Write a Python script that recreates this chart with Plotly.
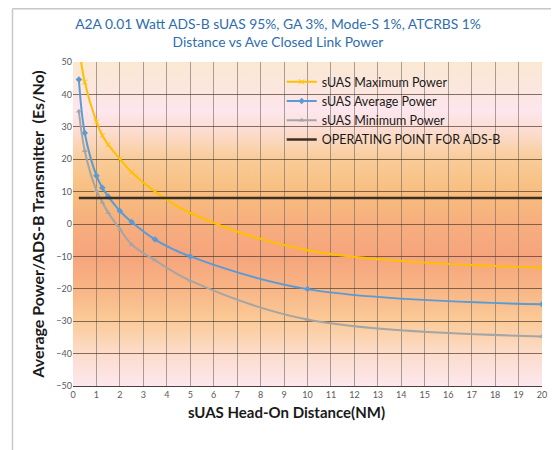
import base64
import plotly.graph_objects as go

# distances (NM) at which the power was computed
distance_nm = [0.25, 0.5, 1.0, 1.25, 1.5, 2.0, 2.5, 3.5, 5.0, 10.0, 20.0]

max_power = [55.0, 43.8, 31.5, 27.3, 24.5, 20.1, 16.0, 10.0, 3.4, -8.1, -13.5]
avg_power = [44.6, 28.1, 14.9, 11.2, 8.5, 4.0, 0.6, -4.8, -10.0, -20.1, -24.8]
min_power = [34.8, 22.6, 10.3, 6.7, 3.5, -1.6, -6.3, -11.2, -17.5, -29.5, -34.7]

op_x = [0.25, 20]
op_y = [8, 8]

FONT = "Lato, 'Open Sans', sans-serif"

# vertical background gradient of the plot area (bottom -> top)
grad_stops = [
    (0.00, "#FDE8EE"), (0.10, "#FCDCCB"), (0.20, "#FBCB98"), (0.30, "#F8B585"),
    (0.40, "#F6A47C"), (0.50, "#F7AE7E"), (0.60, "#F8BE7F"), (0.70, "#F9CC98"),
    (0.80, "#FCDFD8"), (0.85, "#FDE6EE"), (0.90, "#FCE6E2"), (1.00, "#FBE8D2"),
]
stops_svg = "".join(
    f'<stop offset="{1 - o:.2f}" stop-color="{c}"/>' for o, c in reversed(grad_stops)
)
svg = (
    '<svg xmlns="http://www.w3.org/2000/svg" width="100" height="100" '
    'viewBox="0 0 100 100" preserveAspectRatio="none">'
    f'<defs><linearGradient id="g" x1="0" y1="0" x2="0" y2="1">{stops_svg}</linearGradient></defs>'
    '<rect width="100" height="100" fill="url(#g)"/></svg>'
)
bg_src = "data:image/svg+xml;base64," + base64.b64encode(svg.encode()).decode()

fig = go.Figure()

fig.add_trace(go.Scatter(
    x=distance_nm, y=max_power, name="sUAS Maximum Power",
    mode="lines+markers", line=dict(color="#FFC000", width=2, shape="spline"),
    marker=dict(symbol="x-thin", size=5, line=dict(color="#FFC000", width=1)),
))
fig.add_trace(go.Scatter(
    x=distance_nm, y=avg_power, name="sUAS Average Power",
    mode="lines+markers", line=dict(color="#5B9BD5", width=2, shape="spline"),
    marker=dict(symbol="diamond", size=5, color="#5B9BD5"),
))
fig.add_trace(go.Scatter(
    x=distance_nm, y=min_power, name="sUAS Minimum Power",
    mode="lines+markers", line=dict(color="#A5A5A5", width=2, shape="spline"),
    marker=dict(symbol="triangle-up", size=5, color="#A5A5A5"),
))
fig.add_trace(go.Scatter(
    x=op_x, y=op_y, name="OPERATING POINT FOR ADS-B",
    mode="lines", line=dict(color="#3A3026", width=2.5),
))

fig.add_layout_image(dict(
    source=bg_src, xref="x", yref="y", x=0, y=50, sizex=20, sizey=100,
    sizing="stretch", layer="below", xanchor="left", yanchor="top",
))

# the page body adds an 8px margin, so the figure is 8px smaller than the window
fig.update_layout(
    width=551, height=442,
    margin=dict(l=65, r=13, t=54, b=64),
    paper_bgcolor="white",
    plot_bgcolor="rgba(0,0,0,0)",
    font=dict(family=FONT, color="#595959"),
    title=dict(
        text="A2A 0.01 Watt ADS-B sUAS 95%, GA 3%, Mode-S 1%, ATCRBS 1%<br>Distance vs Ave Closed Link Power",
        x=0.49, xanchor="center", y=0.952, yanchor="top",
        font=dict(family=FONT, size=13.8, color="#2E6DAE"),
    ),
    legend=dict(
        x=0.445, y=0.984, xanchor="left", yanchor="top",
        bgcolor="rgba(0,0,0,0)", tracegroupgap=0, itemwidth=30,
        font=dict(family=FONT, size=12.5, color="#1a1a1a"),
    ),
    showlegend=True,
    xaxis=dict(
        range=[0, 20], dtick=1, tick0=0,
        showgrid=True, gridcolor="rgba(110,105,100,0.6)", gridwidth=1,
        zeroline=False, showline=True, linecolor="#4a4038", linewidth=1,
        ticks="", tickfont=dict(size=9, color="#595959"),
    ),
    yaxis=dict(
        range=[-50, 50], dtick=10, tick0=-50,
        showgrid=True, gridcolor="rgba(80,60,45,0.7)", gridwidth=1,
        zeroline=False, showline=False,
        ticks="", tickfont=dict(size=9, color="#595959"),
        title=dict(
            text="<b>Average Power/ADS-B Transmitter  (Es/No)</b>",
            font=dict(family=FONT, size=16, color="#1a1a1a"), standoff=7,
        ),
    ),
    annotations=[dict(
        text="<b>sUAS Head-On Distance(NM)</b>", xref="paper", yref="paper",
        x=0.455, y=-0.045, xanchor="center", yanchor="top", showarrow=False,
        font=dict(family=FONT, size=15, color="#1a1a1a"),
    )],
    shapes=[
        dict(type="line", xref="paper", yref="paper", x0=-0.129, x1=1.03,
             y0=1.164, y1=1.164, line=dict(color="#C8C8C8", width=1.5)),
        dict(type="line", xref="paper", yref="paper", x0=-0.129, x1=-0.129,
             y0=1.164, y1=-0.2, line=dict(color="#C8C8C8", width=1.5)),
    ],
)

fig.write_html("out.html")
